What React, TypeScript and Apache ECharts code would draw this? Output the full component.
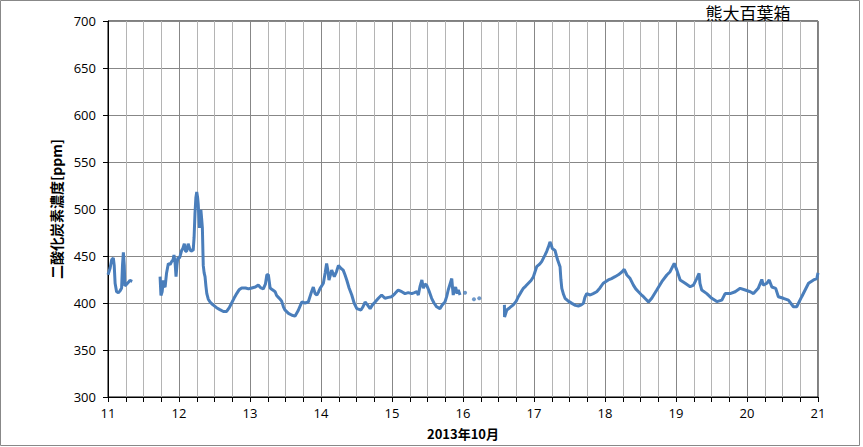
import React, { useEffect, useRef } from "react";
import * as echarts from "echarts";

// Hours elapsed since 2013-10-11 00:00, and CO2 concentration [ppm]
const seg1Hours = [0.0, 0.7, 1.25, 1.8, 2.1, 2.4, 2.9, 3.5, 4.1, 4.6, 4.9, 5.2, 5.5, 5.7, 6.3, 6.9, 7.4, 8.2];
const seg1Values = [430, 437, 446, 448, 440, 421, 412, 411, 413, 416, 440, 454, 440, 418, 420, 422, 424, 423];

const seg2Hours = [
  17.6, 17.9, 18.3, 18.7, 19.0, 19.3, 19.8, 20.4, 21.0, 21.5, 22.0, 22.3, 22.7, 23.0, 23.3, 23.6, 24.2, 24.9, 25.3, 25.8,
  26.2, 26.6, 27.1, 27.6, 28.1, 28.5, 28.8, 29.1, 29.4, 29.7, 30.0, 30.3, 30.5, 30.9, 31.2, 31.4, 31.7, 31.9, 32.2, 32.5,
  32.8, 33.1, 33.4, 33.9, 34.5, 35.5, 36.7, 37.8, 39.0, 40.1, 41.0, 41.8, 42.6, 43.5, 44.3, 45.2, 46.5, 47.5, 48.6, 49.8,
  50.8, 51.7, 52.5, 53.2, 53.7, 54.2, 54.8, 55.6, 56.5, 57.0, 57.6, 58.2, 58.7, 59.3, 59.8, 61.0, 62.2, 63.2, 64.3, 65.5,
  66.6, 67.7, 68.6, 69.4, 70.0, 70.6, 71.2, 71.7, 72.8, 73.4, 73.9, 74.3, 74.7, 75.2, 75.6, 76.5, 77.2, 77.9, 78.7, 79.5,
  80.1, 80.7, 81.5, 82.4, 83.2, 84.1, 85.5, 86.2, 86.9, 87.7, 88.6, 89.4, 90.3, 91.4, 92.5, 93.6, 94.8, 95.9, 97.0, 98.1,
  99.3, 100.4, 101.5, 102.7, 103.6, 104.4, 104.9, 105.5, 106.1, 106.6, 107.1, 107.7, 108.5, 109.4, 110.2, 111.1, 112.2, 113.0, 113.9, 114.5,
  115.0, 115.6, 116.2, 116.5, 116.7, 117.1, 117.5, 118.0, 118.4, 119.0,
];
const seg2Values = [
  428, 408, 412, 424, 418, 417, 432, 442, 441, 444, 446, 451, 442, 428, 440, 448, 448, 456, 458, 463,
  455, 455, 463, 458, 455, 456, 456, 470, 495, 512, 518, 512, 505, 480, 495, 499, 488, 480, 440, 432,
  428, 418, 410, 404, 401, 398, 395, 393, 391, 391, 395, 400, 405, 410, 414, 416, 416, 415, 416, 417,
  419, 416, 415, 420, 430, 430, 416, 414, 412, 408, 406, 404, 402, 396, 392.6, 389, 387, 386, 392, 401,
  400, 401, 410, 417, 410, 408.5, 412, 415.6, 421, 432, 442, 435, 424.5, 430, 435, 428, 433, 440, 437, 435,
  430, 424.5, 416, 408.5, 400, 394, 392.6, 396, 401, 398, 394, 398, 401, 405, 408.5, 405, 406, 406.7, 410, 413.8,
  412, 410, 411, 410, 411, 412, 408.5, 418, 424.5, 415.6, 420, 419, 413, 405, 400, 396, 394, 398, 401, 407,
  413.8, 420, 426, 415, 408.5, 414, 417, 410, 413.8, 408.5,
];

const dotHours = [120.7, 123.7, 125.5];
const dotValues = [411, 404, 405];

const seg3Hours = [
  134.0, 134.05, 134.8, 135.8, 137.0, 138.0, 138.7, 139.5, 140.4, 141.2, 142.1, 143.0, 143.8, 144.9, 145.8, 146.6, 147.7, 148.3, 148.9, 149.4,
  149.8, 150.2, 151.1, 151.6, 152.0, 152.8, 153.1, 153.4, 154.0, 154.5, 155.6, 156.8, 158.0, 159.0, 160.0, 160.7, 161.2, 161.8, 163.0, 164.0,
  165.2, 166.3, 167.4, 169.1, 170.2, 171.4, 172.5, 173.7, 174.5, 175.4, 176.5, 177.6, 178.4, 179.3, 180.2, 181.0, 181.5, 182.7, 183.8, 185.5,
  187.2, 188.9, 190.0, 191.4, 192.3, 193.4, 195.1, 196.8, 197.9, 199.0, 199.8, 200.1, 200.7, 202.4, 204.1, 205.8, 207.5, 208.6, 210.3, 212.0,
  213.7, 215.4, 217.1, 218.2, 219.8, 221.0, 221.5, 222.7, 223.5, 224.4, 225.7, 226.6, 228.3, 230.0, 231.7, 232.8, 234.5, 236.8, 238.5, 239.6,
  240.0,
];
const seg3Values = [
  398, 385, 392.6, 395, 398, 402, 406.7, 411, 415.6, 418, 421, 424, 428, 438.6, 441, 444, 451, 455, 460, 465,
  462, 458, 456, 450, 445.7, 438.6, 425, 415.6, 409, 405, 402, 399.6, 397.5, 396.8, 398, 399.6, 406, 410, 408.5, 410,
  412, 416, 421, 424.5, 426, 428, 430, 433, 435.8, 429.8, 426, 419, 415, 412, 409, 406.7, 405, 401, 405, 413.8,
  422.7, 429.8, 433.3, 442.2, 435, 424.5, 421, 417.3, 419, 426, 431.6, 421, 413.8, 410, 405, 401.5, 403, 410, 410, 412,
  415.6, 413.8, 412, 410, 415.6, 425, 419, 421, 424.5, 417, 415.6, 406.7, 405, 403, 396, 396, 406.7, 421, 424.5, 426,
  432,
];

const dayTicks = [11, 12, 13, 14, 15, 16, 17, 18, 19, 20, 21];
const yTicks = [300, 350, 400, 450, 500, 550, 600, 650, 700];

const startDay = 11;
const toPairs = (hours: number[], values: number[]) =>
  hours.map((h, i) => [startDay + h / 24, values[i]]);

const LINE_COLOR = "#4a7ebb";
const FONT = "'Open Sans', 'Noto Sans', sans-serif";
const CJK = "'Noto Sans CJK JP', sans-serif";

export default function App() {
  const ref = useRef<HTMLDivElement>(null);

  useEffect(() => {
    document.body.style.margin = "0";
    if (!ref.current) return;
    const chart = echarts.init(ref.current, undefined, { renderer: "svg" });
    const lineSeries = (name: string, h: number[], v: number[]) => ({
      name,
      type: "line",
      data: toPairs(h, v),
      showSymbol: false,
      symbol: "none",
      lineStyle: { color: LINE_COLOR, width: 3 },
      itemStyle: { color: LINE_COLOR },
      z: 5,
    });
    chart.setOption({
      animation: false,
      backgroundColor: "#ffffff",
      grid: {
        left: 108,
        right: 45,
        top: 21,
        bottom: 50,
        show: true,
        borderColor: "#000",
        borderWidth: 1,
        backgroundColor: "transparent",
      },
      xAxis: {
        type: "value",
        min: dayTicks[0],
        max: dayTicks[dayTicks.length - 1],
        interval: 1,
        name: "2013年10月",
        nameLocation: "middle",
        nameGap: 30,
        nameTextStyle: { fontFamily: CJK, fontSize: 13, fontWeight: "bold", color: "#000" },
        axisLine: { lineStyle: { color: "#000", width: 1 } },
        axisTick: { show: true, length: 5, lineStyle: { color: "#000" } },
        minorTick: { show: true, splitNumber: 4, length: 5, lineStyle: { color: "#000" } },
        axisLabel: {
          margin: 9,
          fontFamily: FONT,
          fontSize: 13,
          color: "#000",
          formatter: (v: number) => (dayTicks.includes(v) ? String(v) : ""),
        },
        splitLine: { show: true, lineStyle: { color: "#878787", width: 1 } },
        minorSplitLine: { show: true, lineStyle: { color: "#b4b4b4", width: 1 } },
      },
      yAxis: {
        type: "value",
        min: yTicks[0],
        max: yTicks[yTicks.length - 1],
        interval: 50,
        name: "二酸化炭素濃度[ppm]",
        nameLocation: "middle",
        nameGap: 37,
        nameTextStyle: { fontFamily: CJK, fontSize: 14, fontWeight: "bold", color: "#000" },
        axisLine: { show: true, lineStyle: { color: "#000", width: 1 } },
        axisTick: { show: true, length: 5, lineStyle: { color: "#000" } },
        axisLabel: { margin: 12, fontFamily: FONT, fontSize: 13, color: "#000" },
        splitLine: { show: true, lineStyle: { color: "#878787", width: 1 } },
      },
      graphic: [
        {
          type: "rect",
          shape: { x: 0.5, y: 0.5, width: 859, height: 445 },
          style: { fill: "none", stroke: "#888", lineWidth: 1 },
          silent: true,
          z: 100,
        },
        {
          type: "text",
          x: 748,
          y: 12,
          style: {
            text: "熊大百葉箱",
            fontFamily: CJK,
            fontSize: 17,
            fill: "#000",
            align: "center",
            verticalAlign: "middle",
          },
        },
      ],
      series: [
        lineSeries("seg1", seg1Hours, seg1Values),
        lineSeries("seg2", seg2Hours, seg2Values),
        lineSeries("seg3", seg3Hours, seg3Values),
        {
          name: "dots",
          type: "scatter",
          data: toPairs(dotHours, dotValues),
          symbol: "circle",
          symbolSize: 4,
          itemStyle: { color: LINE_COLOR },
          z: 5,
        },
      ],
    });
    return () => chart.dispose();
  }, []);

  return (
    <div
      ref={ref}
      style={{ position: "absolute", left: 0, top: 0, width: 863, height: 447 }}
    />
  );
}
